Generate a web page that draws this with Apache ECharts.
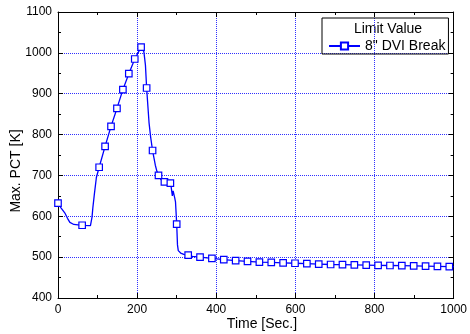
<!DOCTYPE html>
<html>
<head>
<meta charset="utf-8">
<script src="https://cdn.jsdelivr.net/npm/echarts@6/dist/echarts.min.js"></script>
<style>
  html, body { margin: 0; padding: 0; background: #fff; }
  #chart { width: 470px; height: 334px; }
</style>
</head>
<body>
<div id="chart"></div>
<script>
// marker points (squares)
const markerTime = [0, 61, 104, 119, 134, 149, 164, 179, 194, 210, 224, 239, 254, 269, 284, 300, 329,
  359, 389, 419, 449, 479, 509, 539, 569, 599, 629, 659, 689, 719, 749, 779, 809, 839, 869, 899, 929, 959, 989]
const markerValue = [632, 578, 720, 771, 820, 864, 910, 949, 985, 1014, 914, 761, 700, 684, 681, 581, 505,
  500, 497, 494, 491.5, 489.5, 488, 487, 486, 485, 484, 483, 482, 481.5, 481, 480.5, 480, 479.5, 479, 478.5, 478, 477.5, 477]

// extra line points between markers
const curveTime = [8, 18, 24, 30, 40, 82, 86, 88, 92, 97, 213, 217, 221, 230, 234, 246, 250, 260, 276,
  286, 289, 291, 293, 295, 297, 302, 304, 310, 318, 340, 1000]
const curveValue = [620, 607, 595, 585, 580, 577, 598, 620, 655, 695, 1017, 1003, 970, 830, 795, 725, 710, 690, 683,
  672, 650, 662, 662, 645, 635, 530, 516, 510, 507, 502, 476.5]

const xTicks = { min: 0, max: 1000, interval: 200 }
const yTicks = { min: 400, max: 1100, interval: 100 }

const blue = '#0000ff'
const font = 'Liberation Sans, Arial, sans-serif'

const points = markerTime.map((t, i) => ({ value: [t, markerValue[i]] }))
  .concat(curveTime.map((t, i) => ({ value: [t, curveValue[i]], symbol: 'none' })))
  .sort((a, b) => a.value[0] - b.value[0])

const chart = echarts.init(document.getElementById('chart'))

const baseAxis = (pos, showLabel, showSplit, range) => ({
  type: 'value',
  position: pos,
  min: range.min,
  max: range.max,
  interval: range.interval,
  axisLine: { show: true, onZero: false, lineStyle: { color: '#000', width: 1 } },
  axisTick: { show: true, inside: true, length: 5, lineStyle: { color: '#000' } },
  minorTick: { show: true, splitNumber: 2, length: 3, lineStyle: { color: '#000' } },
  axisLabel: {
    show: showLabel, color: '#000', fontSize: 12, fontFamily: font, margin: 6,
    formatter: v => String(v)
  },
  splitLine: { show: showSplit, lineStyle: { color: '#3030ff', type: 'dotted', width: 1 } },
  minorSplitLine: { show: false }
})

chart.setOption({
  animation: false,
  backgroundColor: '#fff',
  grid: { left: 58, right: 12, top: 12, bottom: 36 },
  xAxis: [
    baseAxis('bottom', true, true, xTicks),
    baseAxis('top', false, false, xTicks)
  ],
  yAxis: [
    baseAxis('left', true, true, yTicks),
    baseAxis('right', false, false, yTicks)
  ],
  legend: {
    data: ['8" DVI Break'],
    left: 322,
    top: 18,
    orient: 'vertical',
    padding: [21, 3, 1, 6],
    borderColor: '#000',
    borderWidth: 1,
    itemWidth: 31,
    itemHeight: 9,
    textStyle: { color: '#000', fontSize: 14, fontFamily: font }
  },
  graphic: [
    {
      type: 'text', x: 388, y: 29,
      style: { text: 'Limit Value', fontSize: 14, fontFamily: font, fill: '#000', align: 'center', verticalAlign: 'middle' }
    },
    {
      type: 'text', x: 262, y: 324,
      style: { text: 'Time [Sec.]', fontSize: 14, fontFamily: font, fill: '#000', align: 'center', verticalAlign: 'middle' }
    },
    {
      type: 'text', x: 16, y: 171, rotation: Math.PI / 2,
      style: { text: 'Max. PCT [K]', fontSize: 14, fontFamily: font, fill: '#000', align: 'center', verticalAlign: 'middle' }
    }
  ],
  series: [
    {
      name: '8" DVI Break',
      type: 'line',
      data: points,
      symbol: 'rect',
      symbolSize: 6.5,
      showAllSymbol: true,
      lineStyle: { color: blue, width: 1.3 },
      itemStyle: { color: '#fff', borderColor: blue, borderWidth: 1.2 }
    },
    {
      name: 'dots',
      type: 'scatter',
      silent: true,
      data: markerTime.map((t, i) => [t, markerValue[i]]),
      symbol: 'rect',
      symbolSize: 1.5,
      itemStyle: { color: blue }
    }
  ]
})
</script>
</body>
</html>
